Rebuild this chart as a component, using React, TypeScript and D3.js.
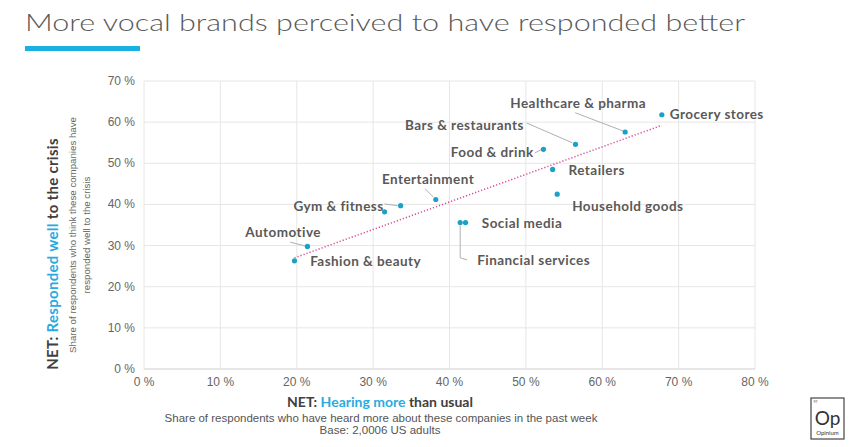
import React from "react";
import * as d3 from "d3";

// data
const categories = [
  "Grocery stores",
  "Healthcare & pharma",
  "Bars & restaurants",
  "Food & drink",
  "Retailers",
  "Household goods",
  "Entertainment",
  "Gym & fitness",
  "",
  "Social media",
  "Financial services",
  "Automotive",
  "Fashion & beauty",
];
const hearingMore = [67.8, 63.0, 56.5, 52.3, 53.5, 54.1, 38.2, 33.6, 31.5, 42.1, 41.4, 21.4, 19.7];
const respondedWell = [61.8, 57.6, 54.6, 53.4, 48.5, 42.5, 41.2, 39.7, 38.2, 35.6, 35.6, 29.8, 26.3];
const xTicks = [0, 10, 20, 30, 40, 50, 60, 70, 80];
const yTicks = [0, 10, 20, 30, 40, 50, 60, 70];

// label placement, px offsets from the point: [dx, dy, anchor, leader points]
type Lab = { dx: number; dy: number; anchor: string; leader?: [number, number][] };
const labelLayout: Lab[] = [
  { dx: 8, dy: 4.5, anchor: "start" },
  { dx: 21, dy: -24.5, anchor: "end", leader: [[-50, -19.3], [-2, -1]] },
  { dx: -51.7, dy: -14.8, anchor: "end", leader: [[-48.7, -21.3], [-3, -1.5]] },
  { dx: -9.7, dy: 8.2, anchor: "end", leader: [[-8.7, 3.7], [-2.5, 0.5]] },
  { dx: 16, dy: 5.2, anchor: "start" },
  { dx: 15, dy: 16.5, anchor: "start" },
  { dx: -7.7, dy: -15.2, anchor: "middle", leader: [[-10.7, -10.7], [-2.5, -2.5]] },
  { dx: -17, dy: 5.5, anchor: "end", leader: [[-16, -1.7], [-3, 0]] },
  { dx: 0, dy: 0, anchor: "start" },
  { dx: 16.3, dy: 5.1, anchor: "start" },
  { dx: 17, dy: 42.8, anchor: "start", leader: [[0, 3], [0, 35.3], [7, 37.3]] },
  { dx: -24.3, dy: -9.8, anchor: "middle", leader: [[-17.3, -4.3], [-2.5, -0.5]] },
  { dx: 15.7, dy: 5.5, anchor: "start" },
];

const W = 860;
const H = 447;
const blue = "#29abe2";
const dot = "#1ba1c5";
const grey = "#595959";

export default function App() {
  const x = d3.scaleLinear().domain([0, 80]).range([144, 755]);
  const y = d3.scaleLinear().domain([0, 70]).range([369, 81]);

  // linear trendline (least squares)
  const mx = d3.mean(hearingMore)!;
  const my = d3.mean(respondedWell)!;
  const slope =
    d3.sum(hearingMore, (v, i) => (v - mx) * (respondedWell[i] - my)) /
    d3.sum(hearingMore, (v) => (v - mx) ** 2);
  const icpt = my - slope * mx;
  const [x0, x1] = d3.extent(hearingMore) as [number, number];
  const trend = d3.line<number>().x((d) => x(d)).y((d) => y(icpt + slope * d));

  return (
    <svg width={W} height={H} style={{ position: "absolute", left: 0, top: 0, background: "#fff" }}>
      {/* title */}
      <text x={25} y={31} fontFamily="Lato" fontWeight={300} fontSize={23} fill={grey}
        textLength={720} lengthAdjust="spacingAndGlyphs">
        More vocal brands perceived to have responded better
      </text>
      <rect x={25} y={46} width={115} height={5} fill="#1ab0e2" />

      {/* grid */}
      <g stroke="#e6e6e6" strokeWidth={1}>
        {xTicks.map((t) => (
          <line key={"gx" + t} x1={x(t)} x2={x(t)} y1={y(0)} y2={y(70)} />
        ))}
        {yTicks.map((t) => (
          <line key={"gy" + t} x1={x(0)} x2={x(80)} y1={y(t)} y2={y(t)} />
        ))}
      </g>
      <line x1={x(0)} x2={x(80)} y1={y(0)} y2={y(0)} stroke="#d9d9d9" />

      {/* tick labels */}
      <g fontFamily="Liberation Sans, Arial" fontSize={12} fill="#666">
        {xTicks.map((t) => (
          <text key={"tx" + t} x={x(t)} y={386} textAnchor="middle">{t} %</text>
        ))}
        {yTicks.map((t) => (
          <text key={"ty" + t} x={135} y={y(t) + 4} textAnchor="end">{t} %</text>
        ))}
      </g>

      {/* trendline */}
      <path d={trend([x0, x1]) ?? ""} stroke="#d6479a" strokeWidth={1.5} strokeDasharray="1.2 2" fill="none" />

      {/* leaders */}
      <g stroke="#b0b0b0" strokeWidth={1} fill="none">
        {categories.map((c, i) => {
          const l = labelLayout[i];
          if (!l.leader) return null;
          const px = x(hearingMore[i]);
          const py = y(respondedWell[i]);
          const d = d3.line()(l.leader.map(([a, b]) => [px + a, py + b] as [number, number]));
          return <path key={"ld" + i} d={d ?? ""} />;
        })}
      </g>

      {/* points */}
      {categories.map((c, i) => (
        <circle key={"pt" + i} cx={x(hearingMore[i])} cy={y(respondedWell[i])} r={2.6} fill={dot} />
      ))}

      {/* point labels */}
      <g fontFamily="Lato" fontWeight={700} fontSize={13.5} letterSpacing={0.45} fill={grey}>
        {categories.map((c, i) => {
          const l = labelLayout[i];
          return c ? (
            <text key={"lb" + i} x={x(hearingMore[i]) + l.dx} y={y(respondedWell[i]) + l.dy} textAnchor={l.anchor}>
              {c}
            </text>
          ) : null;
        })}
      </g>

      {/* y axis titles */}
      <text transform="translate(58,254) rotate(-90)" textAnchor="middle" fontFamily="Lato" fontWeight={700}
        fontSize={15} letterSpacing={0.3} fill="#404040">
        NET: <tspan fill={blue}>Responded well</tspan> to the crisis
      </text>
      <g fontFamily="Liberation Sans, Arial" fontSize={9.7} fill="#666" textAnchor="middle">
        <text transform="translate(75.5,235) rotate(-90)">Share of respondents who think these companies have</text>
        <text transform="translate(90,235) rotate(-90)">responded well to the crisis</text>
      </g>

      {/* x axis titles */}
      <text x={380} y={406.5} textAnchor="middle" fontFamily="Lato" fontWeight={700} fontSize={14} fill="#404040">
        NET: <tspan fill={blue}>Hearing more</tspan> than usual
      </text>
      <g fontFamily="Liberation Sans, Arial" fontSize={11.5} fill="#555" textAnchor="middle">
        <text x={381} y={421.5}>Share of respondents who have heard more about these companies in the past week</text>
        <text x={380} y={433.5}>Base: 2,0006 US adults</text>
      </g>

      {/* logo */}
      <g>
        <rect x={811} y={398} width={33} height={41} fill="#fff" stroke="#444" strokeWidth={1.2} />
        <text x={813.5} y={403} fontFamily="Liberation Sans, Arial" fontSize={3.5} fill="#444">97</text>
        <text x={827.5} y={425} textAnchor="middle" fontFamily="Lato" fontSize={19} fill="#333">Op</text>
        <text x={827.5} y={434.5} textAnchor="middle" fontFamily="Lato" fontSize={6} fill="#333">Opinium</text>
      </g>
    </svg>
  );
}
